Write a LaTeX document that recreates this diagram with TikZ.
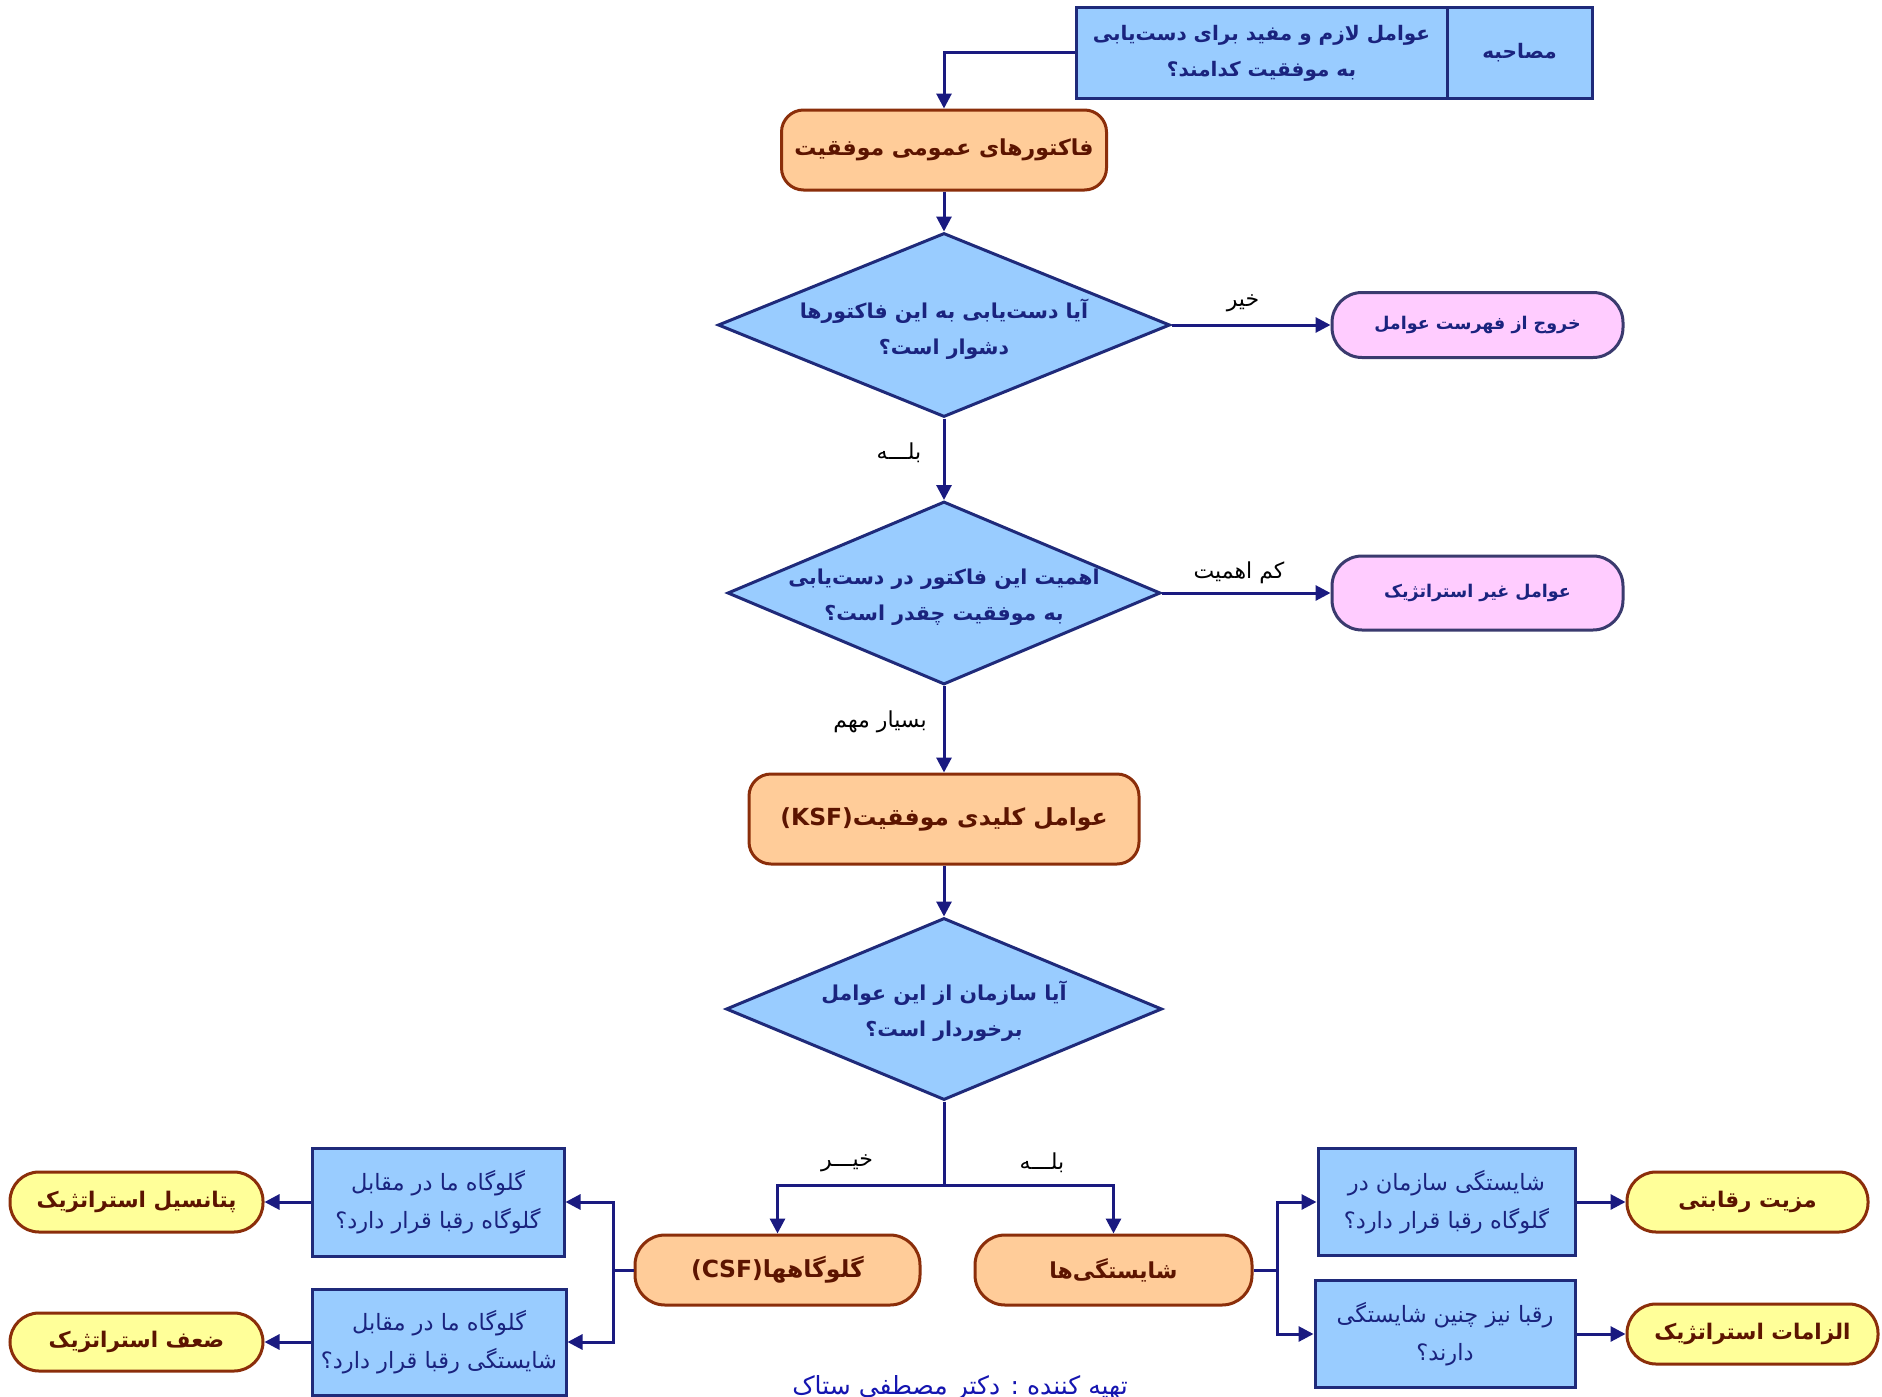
\documentclass[tikz,border=0pt]{standalone}
\usepackage{fontspec}
\usetikzlibrary{shapes.geometric,arrows.meta}
\TeXXeTstate=1
\newfontfamily\fa[Script=Arabic]{DejaVu Sans}
\newcommand\RL[1]{\beginR #1\endR}
\definecolor{bfill}{HTML}{99CCFF}
\definecolor{bline}{HTML}{1F2A7A}
\definecolor{btext}{HTML}{1A237E}
\definecolor{ofill}{HTML}{FFCC99}
\definecolor{oline}{HTML}{8B2E0A}
\definecolor{otext}{HTML}{5C1400}
\definecolor{pfill}{HTML}{FFCCFF}
\definecolor{pline}{HTML}{3A3A6E}
\definecolor{yfill}{HTML}{FFFF99}
\definecolor{arrowc}{HTML}{1A1A80}
\definecolor{creditc}{HTML}{1515B0}
\tikzset{
  base/.style={inner sep=0pt, align=center},
  qbox/.style={base, rectangle, draw=bline, fill=bfill, line width=3pt, text=btext,
    font=\fa\fontsize{22.5}{38}\selectfont},
  qtop/.style={qbox, font=\fa\bfseries\fontsize{20}{36}\selectfont},
  dia/.style={base, diamond, draw=bline, fill=bfill, line width=3pt},
  diatext/.style={base, text=btext, font=\fa\bfseries\fontsize{20.5}{36}\selectfont},
  onode/.style={base, rectangle, rounded corners=22pt, draw=oline, fill=ofill, line width=3pt, text=otext,
    font=\fa\bfseries\fontsize{22}{26}\selectfont},
  pnode/.style={base, rectangle, rounded corners=30pt, draw=pline, fill=pfill, line width=3pt, text=btext,
    font=\fa\bfseries\fontsize{17.5}{22}\selectfont},
  ynode/.style={base, rectangle, rounded corners=29pt, draw=oline, fill=yfill, line width=3pt, text=otext,
    font=\fa\bfseries\fontsize{21.5}{24}\selectfont},
  lbl/.style={base, text=black, font=\fa\fontsize{22}{24}\selectfont},
  ln/.style={draw=arrowc, line width=3pt},
  arr/.style={draw=arrowc, line width=3pt, -{Triangle[length=15pt,width=15pt]}},
}
\begin{document}
\begin{tikzpicture}[x=1pt,y=-1pt]
\fill[white] (0,0) rectangle (1882,1397);
\useasboundingbox (0,0) rectangle (1882,1397);

% top
\node[qtop, minimum width=371pt, minimum height=90pt] (q0) at (1261.5,53)
  {\RL{عوامل لازم و مفید برای  دست^^^^200cیابی}\\\RL{به موفقیت کدامند؟}};
\node[qtop, minimum width=145pt, minimum height=90pt] (m0) at (1519.5,53) {\RL{مصاحبه}};

\node[onode, minimum width=325pt, minimum height=80pt] (o1) at (944,150) {\RL{فاکتورهای عمومی موفقیت}};

\node[dia, minimum width=452pt, minimum height=184pt] (d1) at (944,325) {};
\node[diatext] (d1t) at ([yshift=-4pt]d1.center) {\RL{آیا دست^^^^200cیابی به این فاکتورها}\\\RL{دشوار است؟}};
\node[pnode, minimum width=291pt, minimum height=65pt] (p1) at (1477.5,325) {\RL{خروج از فهرست عوامل}};

\node[dia, minimum width=433pt, minimum height=183pt] (d2) at (944,593) {};
\node[diatext] (d2t) at ([yshift=-4pt]d2.center) {\RL{اهمیت این فاکتور در دست^^^^200cیابی}\\\RL{به موفقیت چقدر است؟}};
\node[pnode, minimum width=291pt, minimum height=74pt] (p2) at (1477.5,593) {\RL{عوامل غیر استراتژیک}};

\node[onode, minimum width=390pt, minimum height=90pt, font=\fa\bfseries\fontsize{23.5}{26}\selectfont] (ksf) at (944,819)
  {\RL{عوامل کلیدی موفقیت\beginL(KSF)\endL}};

\node[dia, minimum width=436pt, minimum height=182pt] (d3) at (944,1009) {};
\node[diatext] (d3t) at ([yshift=-2pt]d3.center) {\RL{آیا سازمان از این عوامل}\\\RL{برخوردار است؟}};

\node[onode, rounded corners=30pt, minimum width=285pt, minimum height=70pt, font=\fa\bfseries\fontsize{23.5}{26}\selectfont] (csf) at (777.5,1270)
  {\RL{گلوگاهها\beginL(CSF)\endL}};
\node[onode, rounded corners=30pt, minimum width=277pt, minimum height=70pt] (shay) at (1113.5,1270)
  {\RL{شایستگی^^^^200cها}};

% left side
\node[qbox, minimum width=252pt, minimum height=108pt] (lb1) at (438,1202)
  {\RL{گلوگاه ما در مقابل}\\\RL{گلوگاه رقبا قرار دارد؟}};
\node[qbox, minimum width=254pt, minimum height=106pt] (lb2) at (439,1342)
  {\RL{گلوگاه ما در مقابل}\\\RL{شایستگی رقبا قرار دارد؟}};
\node[ynode, minimum width=253pt, minimum height=60pt] (y1) at (136.5,1202) {\RL{پتانسیل استراتژیک}};
\node[ynode, minimum width=253pt, minimum height=58pt] (y2) at (136.5,1342) {\RL{ضعف استراتژیک}};

% right side
\node[qbox, minimum width=257pt, minimum height=107pt] (rb1) at (1446.5,1202)
  {\RL{شایستگی سازمان در}\\\RL{گلوگاه رقبا قرار دارد؟}};
\node[qbox, minimum width=260pt, minimum height=107pt] (rb2) at (1445,1334)
  {\RL{رقبا نیز چنین شایستگی}\\\RL{دارند؟}};
\node[ynode, minimum width=241pt, minimum height=60pt] (y3) at (1747.5,1202) {\RL{مزیت رقابتی}};
\node[ynode, minimum width=251pt, minimum height=60pt] (y4) at (1752.5,1334) {\RL{الزامات استراتژیک}};

% connectors
\draw[arr] (q0.west) -| (o1.north);
\draw[arr] (o1.south) -- (d1.north);
\draw[arr] (d1.east) -- (p1.west);
\draw[arr] (d1.south) -- (d2.north);
\draw[arr] (d2.east) -- (p2.west);
\draw[arr] (d2.south) -- (ksf.north);
\draw[arr] (ksf.south) -- (d3.north);
\coordinate (split) at (944,1185);
\draw[ln] (d3.south) -- (split);
\draw[arr] (split) -| (csf.north);
\draw[arr] (split) -| (shay.north);
\coordinate (lbus) at (613,1270);
\draw[ln] (csf.west) -- (lbus);
\draw[arr] (lbus) |- (lb1.east);
\draw[arr] (lbus) |- (lb2.east);
\draw[arr] (lb1.west) -- (y1.east);
\draw[arr] (lb2.west) -- (y2.east);
\coordinate (rbus) at (1277,1270);
\draw[ln] (shay.east) -- (rbus);
\draw[arr] (rbus) |- (rb1.west);
\draw[arr] (rbus) |- (rb2.west);
\draw[arr] (rb1.east) -- (y3.west);
\draw[arr] (rb2.east) -- (y4.west);

% labels
\node[lbl] (l1) at (1243,303) {\RL{خیر}};
\node[lbl] (l2) at (899,453) {\RL{بلـــه}};
\node[lbl] (l3) at (1239,573) {\RL{کم اهمیت}};
\node[lbl] (l4) at (880,722) {\RL{بسیار مهم}};
\node[lbl] (l5) at (847,1163) {\RL{خیـــر}};
\node[lbl] (l6) at (1042,1163) {\RL{بلـــه}};

\node[base, anchor=north, text=creditc, font=\fa\fontsize{25}{28}\selectfont] (credit) at (960,1375)
  {\RL{تهیه کننده : دکتر مصطفی ستاک}};
\end{tikzpicture}
\end{document}
